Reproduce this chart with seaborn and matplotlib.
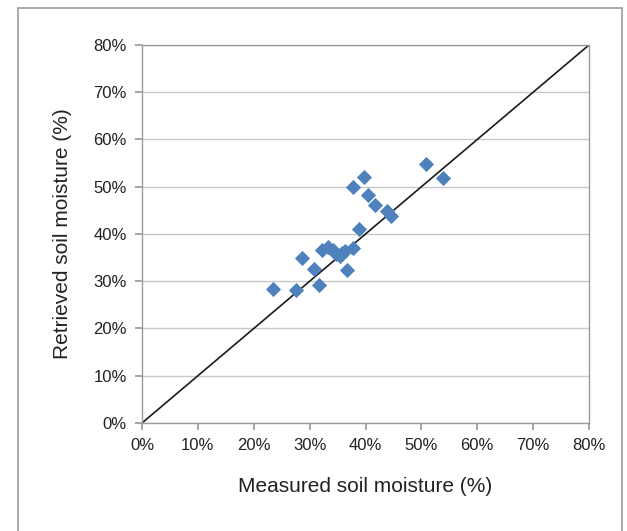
import matplotlib
matplotlib.use("Agg")
import matplotlib.pyplot as plt
import seaborn as sns
import pandas as pd
from matplotlib.ticker import PercentFormatter
from matplotlib.patches import Rectangle

# measured vs retrieved soil moisture (%)
measured = [23.4, 27.6, 28.7, 30.7, 31.7, 32.3, 33.3, 34.1, 34.8, 35.4, 35.8, 36.4,
            36.7, 37.8, 37.7, 38.9, 39.7, 40.4, 41.7, 43.8, 44.5, 50.8, 53.9]
retrieved = [28.3, 28.1, 35.0, 32.6, 29.1, 36.6, 37.2, 36.7, 35.8, 35.3, 36.0, 36.4,
             32.4, 37.0, 50.0, 41.0, 52.0, 48.3, 46.1, 44.9, 43.9, 54.9, 51.9]
one_to_one = [0, 80]

df = pd.DataFrame({"measured": measured, "retrieved": retrieved})

sns.set_theme(style="white")
plt.rcParams["font.family"] = ["Liberation Sans", "DejaVu Sans"]

fig = plt.figure(figsize=(6.27, 5.31), dpi=100)
ax = fig.add_axes([0.2265, 0.2034, 0.7129, 0.7119])

# outer frame like the source image
fig.patches.append(Rectangle((18 / 627, -0.05), 604 / 627, 1.05 - 8 / 531,
                             transform=fig.transFigure, fill=False,
                             edgecolor="#9a9a9a", linewidth=1.2))

ax.yaxis.grid(True, color="#c8c8c8", linewidth=1)
ax.set_axisbelow(True)

sns.lineplot(x=one_to_one, y=one_to_one, color="#1a1a1a", linewidth=1.2, ax=ax)
sns.scatterplot(data=df, x="measured", y="retrieved", marker="D", s=60,
                color="#4F81BD", edgecolor="#4F81BD", linewidth=0, ax=ax, zorder=3)

ax.set_xlim(0, 80)
ax.set_ylim(0, 80)
ax.set_xticks(range(0, 81, 10))
ax.set_yticks(range(0, 81, 10))
ax.xaxis.set_major_formatter(PercentFormatter(decimals=0))
ax.yaxis.set_major_formatter(PercentFormatter(decimals=0))
ax.tick_params(axis="both", labelsize=12, colors="#222222", length=5,
               color="#9a9a9a", direction="out")
ax.tick_params(axis="x", bottom=True, pad=6)
ax.tick_params(axis="y", left=True, pad=6)

for side in ["left", "bottom", "top", "right"]:
    ax.spines[side].set_color("#9a9a9a")
    ax.spines[side].set_linewidth(1)

ax.set_xlabel("Measured soil moisture (%)", fontsize=15, color="#222222", labelpad=17)
ax.set_ylabel("Retrieved soil moisture (%)", fontsize=15, color="#222222", labelpad=15)

fig.savefig("out.png", dpi=100)
